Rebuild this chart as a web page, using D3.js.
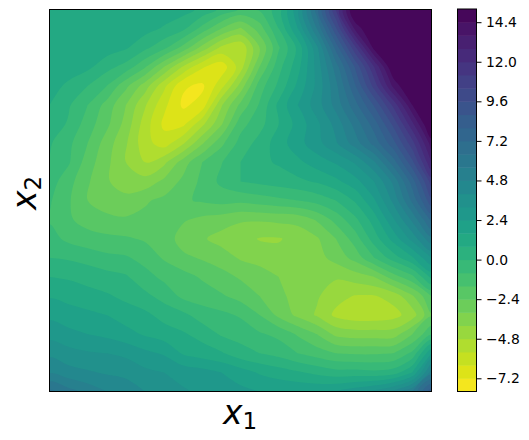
<!DOCTYPE html>
<html>
<head>
<meta charset="utf-8">
<style>
  html, body { margin: 0; background: #fff; }
  svg { display: block; }
  text { font-family: "DejaVu Sans", sans-serif; fill: #000; }
</style>
</head>
<body>
<div id="chart"></div>
<script src="https://cdn.jsdelivr.net/npm/d3@7"></script>
<script>
// grid positions, x1 left to right, x2 top to bottom
var gridX = d3.range(21).map(function (i) { return -1.5 + i * 0.125; });
var gridY = d3.range(21).map(function (j) { return 2 - j * 0.125; });

// surface values, one row per gridY
var surface = [
  [1.4,1.4,1.4,1.4,1.4,1.4,1.3,1.1,0.6,-0.2,-0.9,-0.7,0.4,3.0,6.8,11.3,15.6,15.6,15.6,15.6,15.6],
  [1.5,1.5,1.5,1.5,1.4,1.1,0.7,0.2,-1.1,-2.4,-3.3,-2.0,0,2.4,5.6,9.5,13.8,15.6,15.6,15.6,15.6],
  [1.5,1.5,1.5,1.2,0.9,0.2,-0.6,-1.9,-3.5,-5.0,-5.5,-3.2,-0.9,1.0,3.8,7.5,11.0,14.7,15.6,15.6,15.6],
  [1.5,1.3,1.0,0.3,-0.3,-1.5,-3.2,-4.9,-6.3,-6.9,-5.2,-2.4,-0.3,1.3,3.5,6.0,8.9,12,15.3,15.6,15.6],
  [1.2,0.6,0,-0.8,-2.2,-3.6,-5.4,-7.1,-7.35,-5.9,-3.7,-1.2,0.2,1.8,3.4,5.4,7.9,10.7,13.8,15.6,15.6],
  [0.8,0.1,-0.8,-1.9,-3.2,-4.7,-6.2,-7.35,-6.9,-4.1,-2.2,-0.7,1.0,2.4,3.6,5.1,6.9,8.9,11.4,14.4,15.6],
  [0.5,-0.1,-1.2,-2.2,-3.5,-5.2,-6.6,-6.6,-5.0,-3.3,-1.1,-0.3,0.8,1.9,3.0,4.3,5.9,7.6,9.8,12.6,15.6],
  [0.1,-0.6,-1.6,-2.8,-3.9,-5.3,-6.0,-4.9,-3.3,-1.8,-0.5,0.3,1.2,2.1,2.9,3.9,5.2,6.7,8.5,10.9,14.0],
  [0,-0.7,-2.0,-3.0,-4.0,-4.8,-4.2,-2.8,-1.6,-0.85,0,0.6,0.9,1.4,2.0,2.5,3.3,4.7,6.8,9.4,12.8],
  [-0.4,-1.3,-2.3,-3.1,-3.7,-3.7,-3.0,-2.2,-1.4,-0.6,0,0.2,0.4,0.6,0.9,1.4,2.1,3.2,5.0,7.6,10.8],
  [-0.7,-1.5,-2.4,-2.8,-2.9,-2.5,-2.2,-1.7,-1.5,-1.3,-1.4,-1.2,-1.0,-0.8,-0.5,0,0.9,2.3,4.2,6.6,9.4],
  [-0.9,-1.5,-1.9,-2.2,-2.3,-2.2,-2.0,-2.3,-2.6,-2.8,-3.1,-3.1,-3.0,-2.9,-2.3,-1.3,-0.2,1.2,3.1,5.0,7.4],
  [-0.5,-1.0,-1.3,-1.4,-1.5,-1.7,-1.9,-2.8,-3.1,-3.5,-3.7,-4.05,-4.05,-3.8,-3.3,-2.4,-1.2,0.4,1.9,3.5,5.4],
  [0,-0.1,-0.3,-0.6,-0.7,-1.1,-1.7,-2.2,-2.5,-2.8,-3.3,-3.6,-3.8,-3.7,-3.5,-2.9,-2.1,-0.8,0.4,1.5,3.2],
  [0.8,0.7,0.5,0.3,0.1,-0.5,-1.0,-1.3,-1.7,-2.1,-2.5,-2.7,-3.2,-3.7,-3.7,-3.9,-3.6,-3.2,-2.0,-1.0,1.0],
  [1.5,1.3,1.1,0.9,0.6,0.2,-0.3,-1.0,-1.2,-1.5,-1.9,-2.4,-3.0,-3.5,-3.9,-4.5,-4.85,-4.85,-4.5,-3.3,-1.6],
  [2.2,2.0,1.8,1.6,1.2,1.0,0.5,0.2,-0.4,-0.6,-0.9,-1.6,-2.6,-3.4,-4.1,-5.0,-5.3,-5.3,-5.1,-4.4,-2.5],
  [2.9,2.6,2.4,2.2,1.9,1.5,1.2,0.9,0.5,-0.1,-0.3,-0.7,-1.0,-1.7,-2.4,-3.4,-3.6,-3.6,-3.6,-2.4,-0.9],
  [3.8,3.5,3.3,3.2,3.0,2.6,2.3,1.5,1.2,0.9,0.3,0,-0.3,-0.8,-1.2,-1.6,-1.7,-1.7,-1.6,-0.6,2.4],
  [4.7,4.3,4.1,3.9,3.8,3.4,3.2,2.9,2.7,2.4,2.0,1.5,1.2,0.9,0.6,0.3,0.3,0.2,0.4,1.6,5.2],
  [6.6,5.9,5.3,4.8,4.4,4,3.6,3.3,3.0,2.8,2.6,2.4,2.3,2.3,2.3,2.5,2.9,3.4,4.2,5.6,8.6]
];

var levels = d3.range(0, 30).map(function (i) { return +(-8 + i * 0.8).toFixed(1); });   // -8 .. 15.2
var cbarTicks = [-7.2, -4.8, -2.4, 0, 2.4, 4.8, 7.2, 9.6, 12, 14.4];

var W = 529, H = 440;
var plot = { x0: 49.5, x1: 431.5, y0: 9.5, y1: 391.5 };
var cbar = { x0: 457.5, x1: 476.5, y0: 9, y1: 391.5 };

var xs = d3.scaleLinear().domain([-1.5, 1]).range([plot.x0, plot.x1]);
var ys = d3.scaleLinear().domain([2, -0.5]).range([plot.y0, plot.y1]);
var cs = d3.scaleLinear().domain([levels[0], levels[levels.length - 1]]).range([cbar.y1, cbar.y0]);

// same as viridis_r sampled at the middle of each band
function bandColor(lo, hi) {
  var t = ((lo + hi) / 2 - levels[0]) / (levels[levels.length - 1] - levels[0]);
  return d3.interpolateViridis(1 - t);
}

var svg = d3.select("#chart").append("svg").attr("width", W).attr("height", H);

svg.append("clipPath").attr("id", "plotclip").append("rect")
  .attr("x", plot.x0).attr("y", plot.y0)
  .attr("width", plot.x1 - plot.x0).attr("height", plot.y1 - plot.y0);

var contours = d3.contours()
  .size([gridX.length, gridY.length])
  .thresholds(levels.slice(0, -1))(surface.flat());

// contours work on cell centres, so shift by half a cell back to grid coords
var ringLine = d3.line()
  .x(function (p) { return xs(gridX[0] + (p[0] - 0.5) * 0.125); })
  .y(function (p) { return ys(gridY[0] - (p[1] - 0.5) * 0.125); })
  .curve(d3.curveCatmullRomClosed.alpha(0.5));

function contourPath(d) {
  var s = "";
  d.coordinates.forEach(function (poly) {
    poly.forEach(function (ring) { s += ringLine(ring.slice(0, -1)); });
  });
  return s;
}

var gFill = svg.append("g").attr("clip-path", "url(#plotclip)");
gFill.append("rect")
  .attr("x", plot.x0).attr("y", plot.y0)
  .attr("width", plot.x1 - plot.x0).attr("height", plot.y1 - plot.y0)
  .attr("fill", bandColor(levels[0], levels[1]));
gFill.selectAll("path").data(contours).join("path")
  .attr("d", contourPath)
  .attr("fill-rule", "evenodd")
  .attr("fill", function (d) { return bandColor(d.value, +(d.value + 0.8).toFixed(1)); });

svg.append("rect")
  .attr("x", plot.x0).attr("y", plot.y0)
  .attr("width", plot.x1 - plot.x0).attr("height", plot.y1 - plot.y0)
  .attr("fill", "none").attr("stroke", "#000").attr("stroke-width", 1);

// colorbar
var gBar = svg.append("g");
gBar.selectAll("rect").data(levels.slice(0, -1)).join("rect")
  .attr("x", cbar.x0)
  .attr("width", cbar.x1 - cbar.x0)
  .attr("y", function (d, i) { return cs(levels[i + 1]); })
  .attr("height", function (d, i) { return cs(levels[i]) - cs(levels[i + 1]) + 0.5; })
  .attr("fill", function (d, i) { return bandColor(levels[i], levels[i + 1]); });
svg.append("rect")
  .attr("x", cbar.x0).attr("y", cbar.y0)
  .attr("width", cbar.x1 - cbar.x0).attr("height", cbar.y1 - cbar.y0)
  .attr("fill", "none").attr("stroke", "#000").attr("stroke-width", 1);

var axis = d3.axisRight(cs).tickValues(cbarTicks).tickSize(5).tickPadding(4.5).tickFormat(d3.format(".1f"));
var gAxis = svg.append("g").attr("transform", "translate(" + cbar.x1 + ",0)").call(axis);
gAxis.select(".domain").remove();
gAxis.selectAll("text").style("font-family", '"DejaVu Sans"').style("font-size", "13.9px").attr("fill", "#000");
gAxis.selectAll("line").attr("stroke", "#000");

// axis labels
var xl = svg.append("text").attr("x", 240).attr("y", 424).attr("text-anchor", "middle");
xl.append("tspan").attr("font-size", 33).attr("font-style", "italic").text("x");
xl.append("tspan").attr("font-size", 23).attr("dy", 5).text("1");

var yl = svg.append("text").attr("transform", "translate(36,193) rotate(-90)").attr("text-anchor", "middle");
yl.append("tspan").attr("font-size", 33).attr("font-style", "italic").text("x");
yl.append("tspan").attr("font-size", 23).attr("dy", 5).text("2");
</script>
</body>
</html>
